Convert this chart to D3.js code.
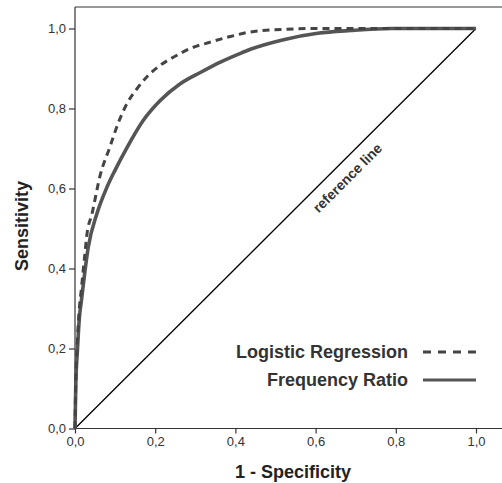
<!DOCTYPE html>
<html>
<head>
<meta charset="utf-8">
<script src="https://cdn.jsdelivr.net/npm/d3@7"></script>
<style>
  body { margin: 0; background: #fff; }
  svg { display: block; font-family: Arial, "Liberation Sans", sans-serif; }
  .tick text { font-size: 13px; fill: #333; }
  .tick line, .domain { stroke: #333; }
</style>
</head>
<body>
<div class="js-roc"></div>
<script>
// ROC curves (1 - specificity vs sensitivity)
var lrFpr = [0, 0.002, 0.005, 0.01, 0.016, 0.024, 0.03, 0.042, 0.0625, 0.0875, 0.1075, 0.13, 0.155, 0.18, 0.2125, 0.245, 0.2875, 0.3375, 0.3875, 0.43, 0.52, 0.605, 0.8, 1.0];
var lrTpr = [0, 0.12, 0.2, 0.29, 0.35, 0.43, 0.487, 0.535, 0.632, 0.705, 0.763, 0.813, 0.85, 0.88, 0.908, 0.928, 0.95, 0.966, 0.98, 0.99, 0.998, 1.0, 1.0, 1.0];

var frFpr = [0, 0.002, 0.006, 0.011, 0.016, 0.025, 0.0325, 0.055, 0.08, 0.1, 0.13, 0.17, 0.2125, 0.2625, 0.3125, 0.3625, 0.4125, 0.4375, 0.52, 0.605, 0.6875, 0.79, 1.0];
var frTpr = [0, 0.11, 0.195, 0.278, 0.32, 0.395, 0.45, 0.538, 0.604, 0.646, 0.703, 0.77, 0.82, 0.862, 0.89, 0.916, 0.938, 0.948, 0.972, 0.988, 0.995, 1.0, 1.0];

var refLine = [0, 1];
var tickValues = [0, 0.2, 0.4, 0.6, 0.8, 1.0];
var seriesNames = ['Logistic Regression', 'Frequency Ratio'];

var width = 502;
var height = 483;
var plotLeft = 75, plotRight = 476;
var plotTop = 7, plotBottom = 428.5;

var svg = d3.select('.js-roc').append('svg')
  .attr('width', width)
  .attr('height', height);

var x = d3.scaleLinear().domain([0, 1]).range([plotLeft, plotRight]);
var y = d3.scaleLinear().domain([0, 1]).range([plotBottom, 28.5]);

var fmt = function(d) { return d3.format('.1f')(d).replace('.', ','); };

// Frame: top border and axes
svg.append('line')
  .attr('x1', plotLeft).attr('x2', width)
  .attr('y1', plotTop).attr('y2', plotTop)
  .attr('stroke', '#777')
  .attr('stroke-width', 1.6);

svg.append('line')
  .attr('x1', plotLeft).attr('x2', width)
  .attr('y1', plotBottom).attr('y2', plotBottom)
  .attr('stroke', '#333')
  .attr('stroke-width', 1.2);

svg.append('line')
  .attr('x1', plotLeft).attr('x2', plotLeft)
  .attr('y1', plotTop).attr('y2', plotBottom)
  .attr('stroke', '#333')
  .attr('stroke-width', 1.2);

var xAxis = svg.append('g')
  .attr('transform', 'translate(0,' + plotBottom + ')')
  .call(d3.axisBottom(x).tickValues(tickValues).tickFormat(fmt).tickSize(5).tickPadding(3));
xAxis.select('.domain').remove();

var yAxis = svg.append('g')
  .attr('transform', 'translate(' + plotLeft + ',0)')
  .call(d3.axisLeft(y).tickValues(tickValues).tickFormat(fmt).tickSize(6).tickPadding(3));
yAxis.select('.domain').remove();

svg.selectAll('.tick line').attr('stroke-width', 1.2);

// Reference line
svg.append('line')
  .attr('x1', x(refLine[0])).attr('y1', y(refLine[0]))
  .attr('x2', x(refLine[1])).attr('y2', y(refLine[1]))
  .attr('stroke', '#000')
  .attr('stroke-width', 1.3);

svg.append('text')
  .attr('transform', 'translate(' + x(0.653) + ',' + y(0.653) + ') rotate(-45)')
  .attr('x', 0)
  .attr('y', 15)
  .attr('dy', '0.35em')
  .attr('text-anchor', 'middle')
  .style('font-size', '14px')
  .style('font-weight', 'bold')
  .style('fill', '#333')
  .text('reference line');

var line = d3.line()
  .x(function(d) { return x(d[0]); })
  .y(function(d) { return y(d[1]); })
  .curve(d3.curveMonotoneX);

var frData = d3.zip(frFpr, frTpr);
var lrData = d3.zip(lrFpr, lrTpr);

svg.append('path')
  .datum(frData)
  .attr('d', line)
  .attr('fill', 'none')
  .attr('stroke', '#555')
  .attr('stroke-width', 3.6);

svg.append('path')
  .datum(lrData)
  .attr('d', line)
  .attr('fill', 'none')
  .attr('stroke', '#444')
  .attr('stroke-width', 3)
  .attr('stroke-dasharray', '7,5');

// Axis titles
svg.append('text')
  .attr('x', 293)
  .attr('y', 478)
  .attr('text-anchor', 'middle')
  .style('font-size', '18px')
  .style('font-weight', 'bold')
  .style('fill', '#222')
  .text('1 - Specificity');

svg.append('text')
  .attr('transform', 'translate(28,226) rotate(-90)')
  .attr('text-anchor', 'middle')
  .style('font-size', '18px')
  .style('font-weight', 'bold')
  .style('fill', '#222')
  .text('Sensitivity');

// Legend
var legend = svg.append('g');
var legendRows = legend.selectAll('g')
  .data(seriesNames)
  .enter().append('g')
  .attr('transform', function(d, i) { return 'translate(0,' + (358 + i * 28) + ')'; });

legendRows.append('text')
  .attr('x', 408)
  .attr('text-anchor', 'end')
  .style('font-size', '18px')
  .style('font-weight', 'bold')
  .style('fill', '#333')
  .text(function(d) { return d; });

legendRows.append('line')
  .attr('x1', 423).attr('x2', 476)
  .attr('y1', -6).attr('y2', -6)
  .attr('stroke', function(d, i) { return i === 0 ? '#444' : '#555'; })
  .attr('stroke-width', 3)
  .attr('stroke-dasharray', function(d, i) { return i === 0 ? '8,7' : null; });
</script>
</body>
</html>
